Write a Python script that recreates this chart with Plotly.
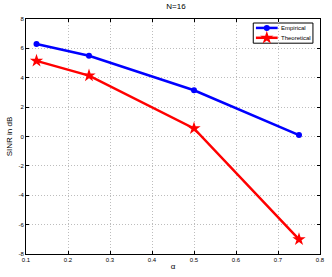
import plotly.graph_objects as go

alpha = [0.125, 0.25, 0.5, 0.75]
empirical = [6.3, 5.5, 3.15, 0.1]
theoretical = [5.15, 4.15, 0.55, -7.0]
x_ticks = [0.1, 0.2, 0.3, 0.4, 0.5, 0.6, 0.7, 0.8]
y_ticks = [-8, -6, -4, -2, 0, 2, 4, 6, 8]
series_names = ["Empirical", "Theoretical"]
series_colors = ["#0000ff", "#ff0000"]
series_symbols = ["circle", "star"]
series_sizes = [6, 10]

FONT = "Liberation Sans"

fig = go.Figure()
for name, ys, col, sym, sz in zip(series_names, [empirical, theoretical], series_colors, series_symbols, series_sizes):
    fig.add_trace(go.Scatter(x=alpha, y=ys, mode="lines+markers", name=name, showlegend=False,
                             line=dict(color=col, width=2.5),
                             marker=dict(symbol=sym, size=sz, color=col)))

# manual compact legend (MATLAB style) on an overlay axis spanning the plot area
leg_x0, leg_x1, leg_y0, leg_y1 = 0.773, 0.976, 0.897, 0.983
row_y = [0.962, 0.92]
sample_x = [0.782, 0.856]
fig.add_shape(type="rect", xref="x2", yref="y2", x0=leg_x0, x1=leg_x1, y0=leg_y0, y1=leg_y1,
              line=dict(color="black", width=1), fillcolor="white", layer="below")
for name, col, sym, sz, ry in zip(series_names, series_colors, series_symbols, series_sizes, row_y):
    fig.add_trace(go.Scatter(x=sample_x, y=[ry, ry], xaxis="x2", yaxis="y2", mode="lines",
                             line=dict(color=col, width=2.5), showlegend=False, hoverinfo="skip"))
    fig.add_trace(go.Scatter(x=[sum(sample_x) / 2], y=[ry], xaxis="x2", yaxis="y2", mode="markers",
                             marker=dict(symbol=sym, size=sz, color=col), showlegend=False, hoverinfo="skip"))
    fig.add_annotation(x=sample_x[1] + 0.006, y=ry, xref="x2", yref="y2", text=name, showarrow=False,
                       xanchor="left", yanchor="middle", font=dict(family=FONT, size=6, color="black"))

axis_common = dict(showline=True, mirror="ticks", linecolor="black", linewidth=1,
                   ticks="inside", ticklen=3, tickcolor="black",
                   showgrid=True, gridcolor="#bdbdbd", griddash="1px,2px", gridwidth=1,
                   zeroline=False, tickfont=dict(family=FONT, size=6, color="black"))

eps = 1e-6
fig.update_layout(
    width=332, height=277,
    margin=dict(l=26, r=7, t=19, b=21),
    paper_bgcolor="white", plot_bgcolor="white",
    title=dict(text="N=16", x=0.53, xanchor="center", y=0.988, yanchor="top",
               font=dict(family=FONT, size=8, color="black")),
    xaxis=dict(range=[0.1 - eps, 0.8 + eps], tickvals=x_ticks, ticktext=[str(v) for v in x_ticks],
               title=dict(text="α", standoff=1, font=dict(family=FONT, size=8, color="black")),
               **axis_common),
    yaxis=dict(range=[-8 - 1e-4, 8 + 1e-4], tickvals=y_ticks, ticktext=[str(v) for v in y_ticks],
               title=dict(text="SINR in dB", standoff=4, font=dict(family=FONT, size=8, color="black")),
               **axis_common),
    xaxis2=dict(overlaying="x", range=[0, 1], visible=False, fixedrange=True),
    yaxis2=dict(overlaying="y", range=[0, 1], visible=False, fixedrange=True),
    showlegend=False,
)

fig.write_html("out.html", config={"displayModeBar": False},
               post_script="document.body.style.margin='0';document.body.style.padding='0';"
                           "document.documentElement.style.overflow='hidden';")
